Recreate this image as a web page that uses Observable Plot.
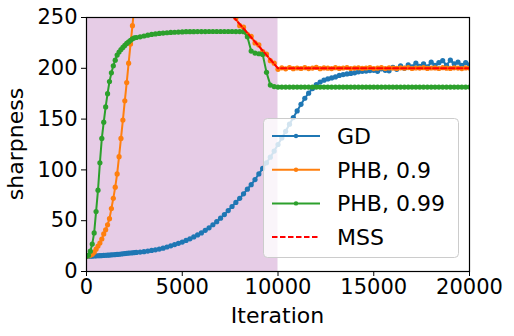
<!DOCTYPE html>
<html><head><meta charset="utf-8">
<script src="https://cdn.jsdelivr.net/npm/d3@7"></script>
<script src="https://cdn.jsdelivr.net/npm/@observablehq/plot@0.6"></script>
<style>body{margin:0;background:#fff;}</style>
</head><body><div id="chart"></div>
<script>
const seriesNames = ["GD", "PHB, 0.9", "PHB, 0.99", "MSS"];
const seriesColors = ["#1f77b4", "#ff7f0e", "#2ca02c", "#ff0000"];
const xTicks = [0, 5000, 10000, 15000, 20000];
const yTicks = [0, 50, 100, 150, 200, 250];
const warmupRange = [0, 10000];

// sample iterations: every 100 up to 2500, then every 200
const itersEarly = d3.range(0, 2501, 100);
const itersLate = d3.range(2600, 20001, 200);
const iters = itersEarly.concat(itersLate);

const gdValues = [
  15,15,15.1,15.2,15.3, 15.4,15.5,15.6,15.7,15.8, 16,16.1,16.2,16.4,16.5, 16.7,16.8,17,17.2,17.4, 17.6,17.8,18,18.2,18.4, 18.6,
  18.8,19.1,
  19.5,20.1,20.7,21.3,22.1, 23,24.1,25.3,26.5,27.7, 29,30.6,32.2,34,36, 38,40.5,43,46,49,
  52.5,56,60,64,68, 72,76.5,81,85.5,90.5, 96,101.5,107,112.5,118.5, 125,131.5,138,145,151.5,
  158,164.5,170.5,175.5,180, 184,186.5,188.3,189.5,190.5, 191.5,193,193.8,194.5,195, 195.5,196.5,197,197.3,197.8,
  198,197,199.5,198,197.5, 201,199,202.5,200,203.5, 201.5,205,202,204.5,201.5, 206,203,205.5,207.5,203,
  208,204.5,206,203,205.5,
  203.5
];
const phb09Values = [
  15,15.5,16,17,19, 22,25,28,32,37, 41,46,52,62,72, 83,96,113,131,149, 168,186,205,224,242, 262,
  null,null,null,null,null, null,null,null,null,null, null,null,null,null,null, null,null,null,null,null, null,null,null,null,null,
  253,249.5,242,240.5,233.5,231.5,225,223,216.5,214,207.5,205,199,
  200.5,199.5,200.8,199.6,200.3,199.8,200.6,199.7,200.2,200.9,
  199.6,200.4,200.1,199.7,200.6,199.9,200.3,200.7,199.8,200.2,
  200.5,199.9,200.3,200.8,199.7,200.1,200.6,199.8,200.4,200.2,
  199.9,200.5,200.1,200.7,199.8,200.3,200.2,200.6,199.9,200.3,
  200.4,199.8,200.6,200.1,199.9,200.5,200.2,199.7,200.4,200.1
];
const phb099Values = [
  15,16,20,27,38, 59,80,107,131,147, 162,175,187,195.5,202.5, 208,213,216,218.5,220.5, 222.5,224.5,226,227.5,229, 230,
  230.3,231,231.8,232.6,233.3,233.8,234.3,234.7,235,235.3,235.5,235.7,235.8,236,
  236,236,236.1,236.1,236.1,236.2,236.2,236.2,236.2,236.2,236.2,236.2,236.1,236.1,236,
  231,217,215,214.3,213.7,196,183.5,182,181.5,
  181.5,181.5,181.5,181.5,181.5,181.5,181.5,181.5,181.5,181.5,
  181.5,181.5,181.5,181.5,181.5,181.5,181.5,181.5,181.5,181.5,
  181.5,181.5,181.5,181.5,181.5,181.5,181.5,181.5,181.5,181.5,
  181.5,181.5,181.5,181.5,181.5,181.5,181.5,181.5,181.5,181.5,
  181.5,181.5,181.5,181.5,181.5,181.5,181.5,181.5,181.5,181.5
];
const mssIters = [6000, 10000, 20000];
const mssValues = [287, 200, 200];

function rows(xs, ys, s) {
  return xs.map((x, i) => ({x, y: ys[i], s})).filter(d => d.y != null);
}
const gdRows = rows(iters, gdValues, seriesNames[0]);
const phb09Rows = rows(iters, phb09Values, seriesNames[1]);
const phb099Rows = rows(iters, phb099Values, seriesNames[2]);
const mssRows = rows(mssIters, mssValues, seriesNames[3]);
const shade = [{x1: warmupRange[0], x2: warmupRange[1]}];

const lw = 2, dotR = 2.6;
const chart = Plot.plot({
  width: 514, height: 336,
  marginLeft: 86, marginRight: 45, marginTop: 17, marginBottom: 65,
  style: {fontFamily: "DejaVu Sans", fontSize: "21px", color: "black", background: "white"},
  x: {domain: [0, 20000]},
  y: {domain: [0, 250]},
  marks: [
    Plot.rect(shade, {x1: "x1", x2: "x2", y1: 0, y2: 250, fill: "#e6cce6"}),
    Plot.line(gdRows, {x: "x", y: "y", stroke: seriesColors[0], strokeWidth: lw, clip: true}),
    Plot.dot(gdRows, {x: "x", y: "y", r: dotR, fill: seriesColors[0], clip: true}),
    Plot.line(phb09Rows, {x: "x", y: "y", stroke: seriesColors[1], strokeWidth: lw, clip: true}),
    Plot.dot(phb09Rows, {x: "x", y: "y", r: dotR, fill: seriesColors[1], clip: true}),
    Plot.line(phb099Rows, {x: "x", y: "y", stroke: seriesColors[2], strokeWidth: lw, clip: true}),
    Plot.dot(phb099Rows, {x: "x", y: "y", r: dotR, fill: seriesColors[2], clip: true}),
    Plot.line(mssRows, {x: "x", y: "y", stroke: seriesColors[3], strokeWidth: lw, strokeDasharray: "5.5,2.5", clip: true}),
    Plot.frame({stroke: "black", strokeWidth: 1.2}),
    Plot.axisX({ticks: xTicks, tickSize: 5, tickPadding: 3, tickFormat: d => String(d), label: null, fontSize: 21}),
    Plot.axisY({ticks: yTicks, tickSize: 5, tickPadding: 4, tickFormat: d => String(d), label: null, fontSize: 21})
  ]
});
document.getElementById("chart").appendChild(chart);

const svg = d3.select(chart);
svg.append("text").attr("x", 277.5).attr("y", 323).attr("text-anchor", "middle")
  .attr("font-size", 22).attr("fill", "black").text("Iteration");
svg.append("text").attr("transform", "translate(23,144) rotate(-90)").attr("text-anchor", "middle")
  .attr("font-size", 22).attr("fill", "black").text("sharpness");

const lg = svg.append("g");
lg.append("rect").attr("x", 263.5).attr("y", 118.5).attr("width", 195).attr("height", 139).attr("rx", 4)
  .attr("fill", "white").attr("fill-opacity", 0.8).attr("stroke", "#cccccc");
seriesNames.forEach((name, i) => {
  const cy = 136 + i * 33.7;
  lg.append("line").attr("x1", 272).attr("x2", 320).attr("y1", cy).attr("y2", cy)
    .attr("stroke", seriesColors[i]).attr("stroke-width", lw)
    .attr("stroke-dasharray", i === 3 ? "5.5,2.5" : null);
  if (i < 3) lg.append("circle").attr("cx", 296).attr("cy", cy).attr("r", 2.2).attr("fill", seriesColors[i]);
  lg.append("text").attr("x", 337).attr("y", cy).attr("dy", "0.36em").attr("font-size", 22)
    .attr("text-anchor", "start").attr("fill", "black").text(name);
});
</script></body></html>
